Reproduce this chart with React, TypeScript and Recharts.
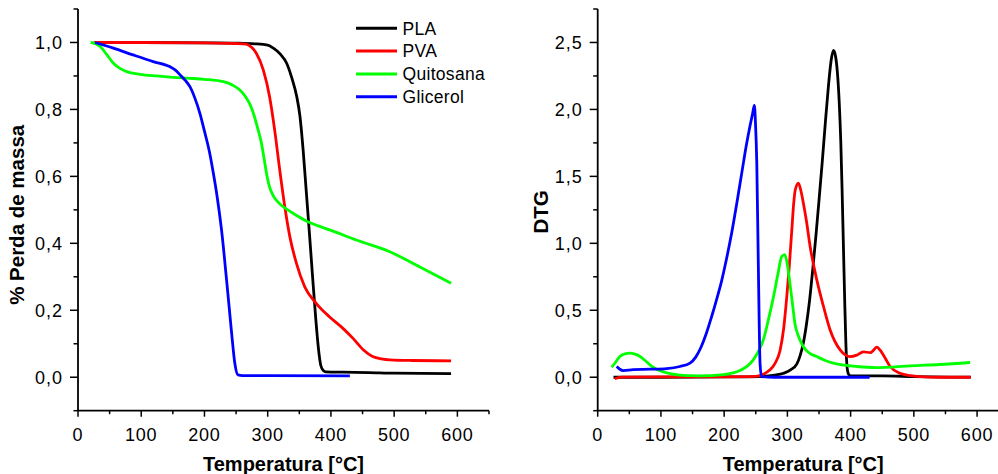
import React from 'react';
import { LineChart, Line, XAxis, YAxis, Legend } from 'recharts';

const seriesNames = ['PLA', 'PVA', 'Quitosana', 'Glicerol'];
const seriesColors = ['#000000', '#ff0000', '#00ff00', '#0000ff'];

// TGA (% Perda de massa) — [temperature, value]
const tgaPLA = [
  [25, 1.0], [100, 1.0], [200, 0.999], [250, 0.998], [280, 0.996], [300, 0.992], [309, 0.983],
  [320, 0.965], [330, 0.938], [338, 0.895], [346, 0.838], [351, 0.78], [356, 0.68], [361, 0.555],
  [366, 0.43], [371, 0.3], [376, 0.175], [380, 0.09], [384, 0.035], [388, 0.02], [392, 0.016],
  [420, 0.015], [460, 0.014], [500, 0.012], [590, 0.011],
];
const tgaPVA = [
  [25, 1.0], [100, 1.0], [200, 0.999], [250, 0.997], [266, 0.995], [275, 0.985], [282, 0.968],
  [293, 0.918], [303, 0.838], [311, 0.739], [319, 0.62], [327, 0.51], [335, 0.42], [345.5, 0.34],
  [358.6, 0.27], [377, 0.22], [398, 0.18], [419, 0.146], [435, 0.116], [451, 0.082], [466, 0.062],
  [480, 0.055], [493, 0.052], [527, 0.05], [590, 0.049],
];
const tgaQuitosana = [
  [20, 1.0], [35, 0.988], [45, 0.965], [56, 0.938], [67, 0.922], [77, 0.913], [98, 0.905],
  [124, 0.9], [150, 0.896], [177, 0.893], [200, 0.89], [230, 0.883], [245, 0.872], [256, 0.858],
  [265, 0.838], [272, 0.815], [278, 0.785], [284, 0.745], [290, 0.7], [295, 0.645], [299, 0.6],
  [303, 0.568], [308, 0.545], [314, 0.528], [322, 0.513], [330, 0.502], [345, 0.484], [361, 0.467],
  [380, 0.452], [398, 0.44], [440, 0.41], [493, 0.375], [540, 0.33], [590, 0.281],
];
const tgaGlicerol = [
  [27, 1.0], [56, 0.983], [87, 0.963], [119, 0.943], [145, 0.928], [155, 0.916], [163, 0.9],
  [170, 0.886], [177, 0.868], [185, 0.833], [193, 0.787], [200, 0.735], [208, 0.672], [214, 0.61],
  [220, 0.54], [227, 0.44], [235, 0.29], [242.5, 0.141], [248, 0.042], [253, 0.007], [260, 0.005],
  [300, 0.005], [430, 0.004],
];

// DTG — [temperature, value]
const dtgPLA = [
  [25, 0.0], [100, 0.0], [200, 0.002], [257, 0.005], [280, 0.015], [294, 0.03], [305, 0.055],
  [315, 0.1], [320, 0.16], [325, 0.25], [330, 0.39], [335, 0.57], [340, 0.8], [345, 1.05],
  [350, 1.32], [355, 1.6], [360, 1.9], [365, 2.18], [369, 2.36], [372.8, 2.44], [376, 2.4],
  [379, 2.28], [382, 2.05], [384.5, 1.75], [386.5, 1.4], [388.5, 1.0], [390.5, 0.6], [392.5, 0.25],
  [394.5, 0.07], [397, 0.02], [400, 0.01], [450, 0.01], [500, 0.005], [590, 0.0],
];
const dtgPVA = [
  [27, -0.01], [40, 0.0], [100, 0.002], [200, 0.003], [250, 0.006], [265, 0.03], [272.6, 0.055],
  [280, 0.1], [288.4, 0.2], [294, 0.36], [299, 0.6], [303, 0.83], [307, 1.1], [310, 1.3],
  [312.5, 1.4], [317.4, 1.45], [321, 1.4], [325.3, 1.3], [330, 1.17], [336, 0.975], [346.5, 0.727],
  [357, 0.53], [367.6, 0.353], [383.4, 0.204], [392, 0.165], [399, 0.154], [409.8, 0.165],
  [420, 0.19], [431, 0.183], [436, 0.2], [441.5, 0.225], [447, 0.2], [452, 0.165], [462.5, 0.08],
  [478, 0.03], [495, 0.012], [510, 0.005], [540, 0.0], [590, 0.0],
];
const dtgQuitosana = [
  [22, 0.075], [28, 0.11], [35, 0.155], [43, 0.175], [51, 0.18], [59, 0.172], [67, 0.155],
  [75, 0.125], [83, 0.09], [93, 0.06], [104, 0.04], [117, 0.025], [130, 0.015], [146, 0.012],
  [162, 0.01], [199, 0.02], [225, 0.05], [246, 0.13], [255, 0.2], [262, 0.28], [270, 0.43],
  [278, 0.6], [285, 0.77], [291, 0.9], [296, 0.915], [300, 0.84], [304, 0.7], [308, 0.55],
  [312, 0.4], [318, 0.3], [325, 0.23], [335, 0.18], [346.5, 0.154], [360, 0.125], [372.8, 0.105],
  [390, 0.09], [410, 0.08], [440, 0.072], [462.5, 0.075], [494, 0.085], [540, 0.095], [589, 0.11],
];
const dtgGlicerol = [
  [30, 0.08], [35, 0.06], [40.5, 0.05], [56, 0.057], [83, 0.06], [109, 0.065], [130, 0.08],
  [146, 0.105], [155, 0.15], [163, 0.22], [172, 0.33], [180, 0.45], [188, 0.58], [196, 0.72],
  [204, 0.89], [212, 1.08], [220, 1.3], [228, 1.53], [235, 1.73], [241, 1.88], [245, 1.97],
  [247.8, 2.03], [249.5, 1.9], [251.6, 1.6], [254, 0.85], [256.8, 0.1], [259, 0.005], [280, 0.0],
  [430, 0.0],
];

const xMajorTicks = [0, 100, 200, 300, 400, 500, 600];
const xAllTicks = [0, 50, 100, 150, 200, 250, 300, 350, 400, 450, 500, 550, 600, 650];
const tgaYMajor = [0, 0.2, 0.4, 0.6, 0.8, 1.0];
const tgaYAll = [-0.1, 0, 0.1, 0.2, 0.3, 0.4, 0.5, 0.6, 0.7, 0.8, 0.9, 1.0, 1.1];
const dtgYMajor = [0, 0.5, 1.0, 1.5, 2.0, 2.5];
const dtgYAll = [-0.25, 0, 0.25, 0.5, 0.75, 1.0, 1.25, 1.5, 1.75, 2.0, 2.25, 2.5, 2.75];

const FONT = '"Liberation Sans", Arial, Helvetica, sans-serif';
const toPoints = (arr: number[][]) => arr.map(([t, v]) => ({ t, v }));
const fmt = (v: number) => v.toFixed(1).replace('.', ',');
const isIn = (list: number[], v: number) => list.some((m) => Math.abs(m - v) < 1e-6);

const axisLineStyle = { stroke: '#000', strokeWidth: 1.8 };
const TICK_W = 1.5;

const makeBottomTick = (majors: number[]) => (props: any) => {
  const { x, y, payload } = props;
  const major = isIn(majors, payload.value);
  return (
    <g>
      <line x1={x} x2={x} y1={y} y2={y + (major ? 6 : 3.5)} stroke="#000" strokeWidth={TICK_W} />
      {major && (
        <text x={x} y={y + 17.5} dy="0.71em" textAnchor="middle" fontSize={18} letterSpacing={0.8}
          fontFamily={FONT} fill="#000">
          {payload.value}
        </text>
      )}
    </g>
  );
};
const makeLeftTick = (majors: number[]) => (props: any) => {
  const { x, y, payload } = props;
  const major = isIn(majors, payload.value);
  return (
    <g>
      <line x1={x} x2={x - (major ? 8 : 4.5)} y1={y} y2={y} stroke="#000" strokeWidth={TICK_W} />
      {major && (
        <text x={x - 15} y={y} dy="0.36em" textAnchor="end" fontSize={18} letterSpacing={1}
          fontFamily={FONT} fill="#000">
          {fmt(payload.value)}
        </text>
      )}
    </g>
  );
};
const topTick = (props: any) => (
  <line x1={props.x} x2={props.x} y1={props.y} y2={props.y - 2.5} stroke="#000" strokeWidth={1.2} />
);
const rightTick = (props: any) => (
  <line x1={props.x} x2={props.x + 2.5} y1={props.y} y2={props.y} stroke="#000" strokeWidth={1.2} />
);

const renderLegend = () => (
  <svg width={150} height={95} style={{ display: 'block', overflow: 'visible' }}>
    {seriesNames.map((name, i) => (
      <g key={name}>
        <line x1={0} x2={41} y1={11.3 + i * 22.8} y2={11.3 + i * 22.8} stroke={seriesColors[i]} strokeWidth={3} />
        <text x={46.5} y={11.3 + i * 22.8} dy="0.36em" fontSize={17.5} letterSpacing={0.3} fontFamily={FONT} fill="#000">
          {name}
        </text>
      </g>
    ))}
  </svg>
);

type PanelProps = {
  width: number;
  yAxisWidth: number;
  marginRight: number;
  yDomain: number[];
  yMajor: number[];
  yAll: number[];
  yTitle: string;
  yTitleX: number;
  yTitleShift: number;
  series: number[][][];
  legend?: boolean;
};

function Panel(p: PanelProps) {
  return (
    <LineChart width={p.width} height={474} margin={{ top: 9, right: p.marginRight, bottom: 0, left: 0 }}>
      <XAxis xAxisId="x" type="number" dataKey="t" domain={[0, 650]} ticks={xAllTicks} interval={0}
        height={63.3} tickSize={0} tickMargin={0} tickLine={false} tick={makeBottomTick(xMajorTicks)}
        axisLine={axisLineStyle} allowDataOverflow
        label={(lp: any) => {
          const vb = lp.viewBox || {};
          return (
            <text x={vb.x + vb.width / 2} y={vb.y + 60} textAnchor="middle" fontSize={20}
              fontWeight="bold" fontFamily={FONT} fill="#000">
              Temperatura [°C]
            </text>
          );
        }} />
      <XAxis xAxisId="xt" orientation="top" type="number" dataKey="t" domain={[0, 650]} ticks={xAllTicks}
        interval={0} height={0} tickSize={0} tickMargin={0} tickLine={false} tick={topTick}
        axisLine={axisLineStyle} allowDataOverflow />
      <YAxis yAxisId="y" type="number" dataKey="v" domain={p.yDomain} ticks={p.yAll} interval={0}
        width={p.yAxisWidth} tickSize={0} tickMargin={0} tickLine={false} tick={makeLeftTick(p.yMajor)}
        axisLine={axisLineStyle} allowDataOverflow
        label={(lp: any) => {
          const vb = lp.viewBox || {};
          const cy = vb.y + vb.height / 2 + p.yTitleShift;
          return (
            <text x={p.yTitleX} y={cy} transform={`rotate(-90 ${p.yTitleX} ${cy})`} textAnchor="middle"
              dy="0.36em" fontSize={20.5} fontWeight="bold" fontFamily={FONT} fill="#000">
              {p.yTitle}
            </text>
          );
        }} />
      <YAxis yAxisId="yr" orientation="right" type="number" dataKey="v" domain={p.yDomain} ticks={p.yAll}
        interval={0} width={0} tickSize={0} tickMargin={0} tickLine={false} tick={rightTick}
        axisLine={axisLineStyle} allowDataOverflow />
      {p.legend && (
        <Legend layout="vertical" align="center" verticalAlign="middle" content={renderLegend}
          wrapperStyle={{ left: 356, top: 17, width: 150, height: 95 }} />
      )}
      {p.series.map((s, i) => (
        <Line key={seriesNames[i]} name={seriesNames[i]} xAxisId="x" yAxisId="y" data={toPoints(s)}
          dataKey="v" type="monotone" stroke={seriesColors[i]} strokeWidth={2.8} dot={false}
          activeDot={false} isAnimationActive={false} />
      ))}
    </LineChart>
  );
}

export default function App() {
  return (
    <div style={{ position: 'absolute', left: 0, top: 0, width: 998, height: 474, overflow: 'hidden', background: '#fff' }}>
      <div style={{ position: 'absolute', left: 0, top: 0 }}>
        <Panel width={500} yAxisWidth={78} marginRight={11} yDomain={[-0.1, 1.1]} yMajor={tgaYMajor}
          yAll={tgaYAll} yTitle="% Perda de massa" yTitleX={17} yTitleShift={5}
          series={[tgaPLA, tgaPVA, tgaQuitosana, tgaGlicerol]} legend />
      </div>
      <div style={{ position: 'absolute', left: 500, top: 0 }}>
        <Panel width={520} yAxisWidth={97.7} marginRight={11.3} yDomain={[-0.25, 2.75]} yMajor={dtgYMajor}
          yAll={dtgYAll} yTitle="DTG" yTitleX={41} yTitleShift={2}
          series={[dtgPLA, dtgPVA, dtgQuitosana, dtgGlicerol]} />
      </div>
    </div>
  );
}
